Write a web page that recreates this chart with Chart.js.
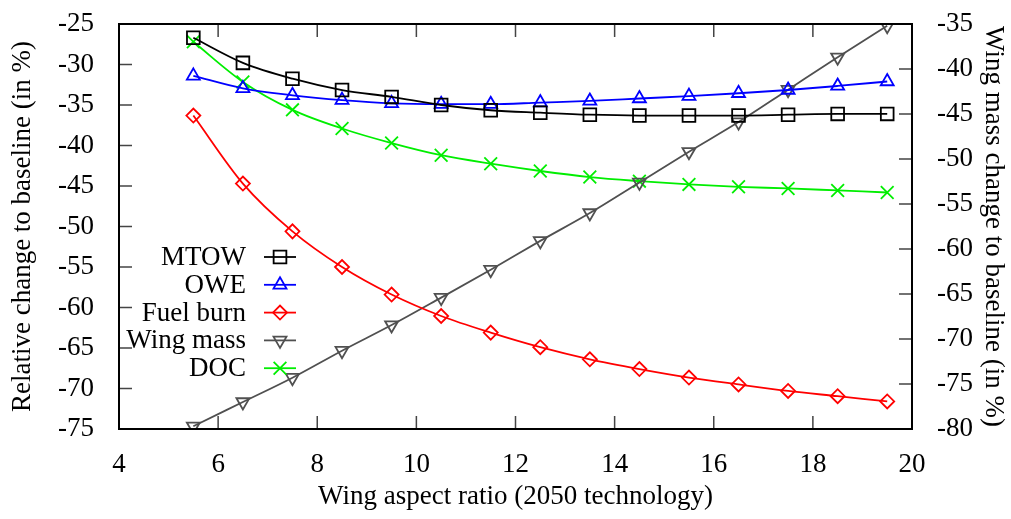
<!DOCTYPE html>
<html>
<head>
<meta charset="utf-8">
<script src="https://cdn.jsdelivr.net/npm/chart.js@4/dist/chart.umd.min.js"></script>
<style>
  html, body { margin: 0; padding: 0; background: #fff; }
</style>
</head>
<body>
<canvas id="aspectChart" width="1011" height="519"></canvas>
<script>
// Wing aspect ratio sweep (2050 technology)
const aspectRatios = [5.5, 6.5, 7.5, 8.5, 9.5, 10.5, 11.5, 12.5, 13.5, 14.5, 15.5, 16.5, 17.5, 18.5, 19.5];

// Left axis: relative change to baseline (%)
const mtow = [-26.7, -29.8, -31.75, -33.15, -34.0, -35.0, -35.65, -35.95, -36.2, -36.3, -36.3, -36.3, -36.2, -36.1, -36.1];
const owe = [-31.4, -32.95, -33.8, -34.4, -34.8, -34.9, -34.9, -34.7, -34.5, -34.2, -33.9, -33.55, -33.15, -32.65, -32.1];
const fuelBurn = [-36.3, -44.7, -50.6, -55.0, -58.4, -61.05, -63.1, -64.9, -66.4, -67.6, -68.65, -69.5, -70.3, -70.95, -71.6];
const doc = [-27.2, -32.15, -35.6, -37.9, -39.7, -41.2, -42.25, -43.15, -43.9, -44.4, -44.8, -45.1, -45.3, -45.55, -45.8];

// Right axis: wing mass change to baseline (%)
const wingMass = [-79.7, -77.0, -74.3, -71.3, -68.45, -65.4, -62.3, -59.1, -56.0, -52.6, -49.2, -45.9, -42.3, -38.7, -35.2];

const SERIF = "'Liberation Serif', 'Times New Roman', serif";
const TICK_LEN = 13;

const toPoints = vals => vals.map((v, i) => ({ x: aspectRatios[i], y: v }));

function series(label, vals, color, style, radius, axis, rotation) {
    return {
        label: label,
        data: toPoints(vals),
        yAxisID: axis,
        borderColor: color,
        borderWidth: 1.8,
        pointStyle: style,
        pointRadius: radius,
        pointHoverRadius: radius,
        pointRotation: rotation || 0,
        pointBorderColor: color,
        pointBorderWidth: 1.8,
        pointBackgroundColor: 'rgba(0,0,0,0)',
        cubicInterpolationMode: 'monotone',
        fill: false
    };
}

// inward ticks on every side + black frame (gnuplot look)
const frameTicks = {
    id: 'frameTicks',
    afterDatasetsDraw(chart) {
        const { ctx, chartArea: a, scales } = chart;
        ctx.save();
        ctx.strokeStyle = '#444';
        ctx.lineWidth = 1.5;
        ctx.beginPath();
        scales.x.ticks.forEach(t => {
            const px = scales.x.getPixelForValue(t.value);
            ctx.moveTo(px, a.bottom); ctx.lineTo(px, a.bottom - TICK_LEN);
            ctx.moveTo(px, a.top); ctx.lineTo(px, a.top + TICK_LEN);
        });
        scales.y.ticks.forEach(t => {
            const py = scales.y.getPixelForValue(t.value);
            ctx.moveTo(a.left, py); ctx.lineTo(a.left + TICK_LEN, py);
        });
        scales.y1.ticks.forEach(t => {
            const py = scales.y1.getPixelForValue(t.value);
            ctx.moveTo(a.right, py); ctx.lineTo(a.right - TICK_LEN, py);
        });
        ctx.stroke();
        ctx.strokeStyle = '#000';
        ctx.lineWidth = 2;
        ctx.strokeRect(a.left, a.top, a.right - a.left, a.bottom - a.top);
        ctx.restore();
    }
};

// legend inside the plot: right-aligned text, line sample with marker on its right
const insideLegend = {
    id: 'insideLegend',
    afterDraw(chart) {
        const { ctx } = chart;
        const textRight = 246, lineL = 264, lineR = 296, top = 257, step = 27.8;
        ctx.save();
        ctx.font = '27px ' + SERIF;
        ctx.textAlign = 'right';
        ctx.textBaseline = 'middle';
        chart.data.datasets.forEach((ds, i) => {
            const y = top + i * step;
            ctx.fillStyle = '#000';
            ctx.fillText(ds.label, textRight, y + 1);
            ctx.strokeStyle = ds.borderColor;
            ctx.lineWidth = ds.borderWidth;
            ctx.beginPath();
            ctx.moveTo(lineL, y); ctx.lineTo(lineR, y);
            ctx.stroke();
            ctx.fillStyle = 'rgba(0,0,0,0)';
            Chart.helpers.drawPoint(ctx, {
                pointStyle: ds.pointStyle,
                radius: ds.pointRadius,
                rotation: ds.pointRotation,
                borderWidth: ds.pointBorderWidth
            }, (lineL + lineR) / 2, y);
        });
        ctx.restore();
    }
};

const tickFont = { family: SERIF, size: 27 };
const titleFont = { family: SERIF, size: 27 };

// fixed axis sizes so the plot box sits where it does in the original
function fitSide(width) {
    return s => { s.width = width; s.paddingTop = 0; s.paddingBottom = 0; };
}

new Chart(document.getElementById('aspectChart'), {
    type: 'line',
    data: {
        datasets: [
            series('MTOW', mtow, '#000000', 'rect', 9, 'y'),
            series('OWE', owe, '#0000ff', 'triangle', 7.5, 'y'),
            series('Fuel burn', fuelBurn, '#ff0000', 'rectRot', 7, 'y'),
            series('Wing mass', wingMass, '#505050', 'triangle', 7.5, 'y1', 180),
            series('DOC', doc, '#00ee00', 'crossRot', 9, 'y')
        ]
    },
    options: {
        responsive: false,
        animation: false,
        layout: { padding: { top: 24, left: 0, right: 0, bottom: 0 } },
        plugins: {
            legend: { display: false },
            tooltip: { enabled: false }
        },
        scales: {
            x: {
                type: 'linear',
                min: 4,
                max: 20,
                grid: { display: false },
                border: { display: false },
                ticks: { stepSize: 2, padding: 12, color: '#000', font: tickFont, maxRotation: 0 },
                title: { display: true, text: 'Wing aspect ratio (2050 technology)', color: '#000', font: titleFont, padding: { top: 0, bottom: 6 } },
                afterFit: s => { s.height = 90; s.paddingLeft = 0; s.paddingRight = 0; }
            },
            y: {
                position: 'left',
                min: -75,
                max: -25,
                grid: { display: false },
                border: { display: false },
                ticks: { stepSize: 5, padding: 17, color: '#000', font: tickFont },
                title: { display: true, text: 'Relative change to baseline (in %)', color: '#000', font: titleFont, padding: { top: 7, bottom: 0 } },
                afterFit: fitSide(119)
            },
            y1: {
                position: 'right',
                min: -80,
                max: -35,
                grid: { display: false },
                border: { display: false },
                ticks: { stepSize: 5, padding: 17, color: '#000', font: tickFont },
                title: { display: true, text: 'Wing mass change to baseline (in %)', color: '#000', font: titleFont, padding: { top: 2, bottom: 0 } },
                afterFit: fitSide(99)
            }
        }
    },
    plugins: [frameTicks, insideLegend]
});
</script>
</body>
</html>
